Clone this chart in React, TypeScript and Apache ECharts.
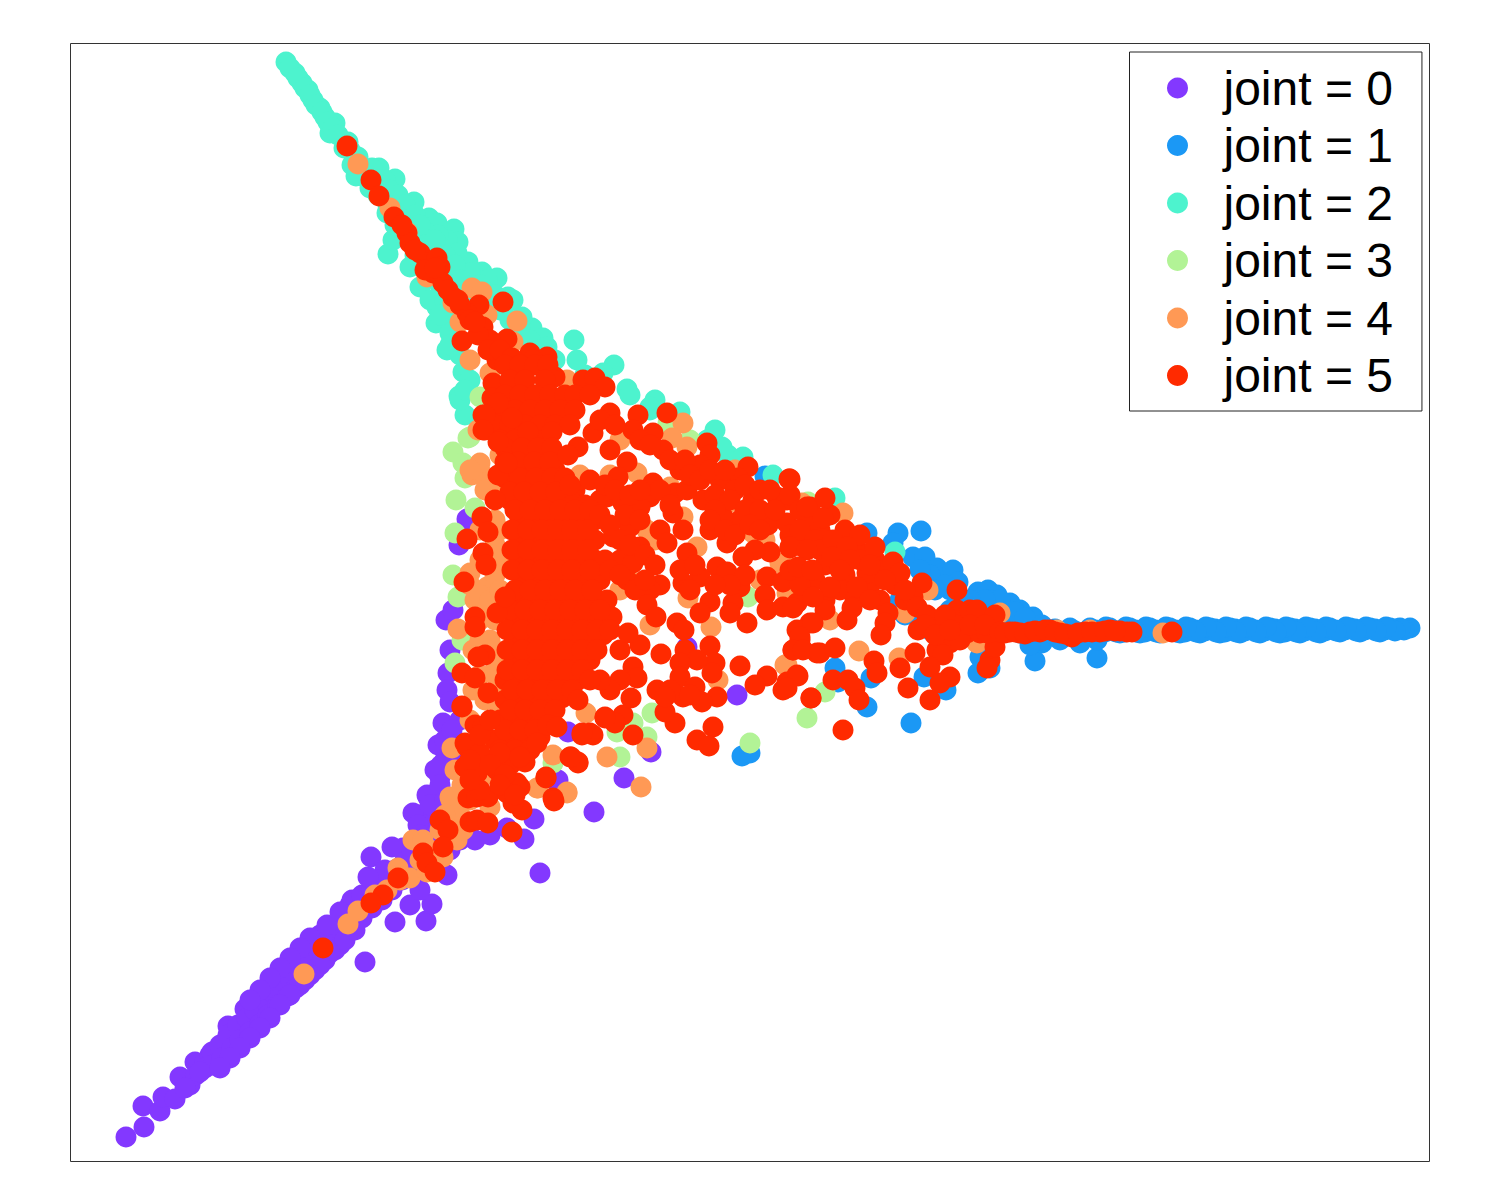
import React, { useEffect, useRef } from "react";
import * as echarts from "echarts";

type P = [number, number];

const joint0: P[] = [[126,1137],[144,1127],[143,1106],[160,1111],[163,1097],[175,1099],[180,1077],[190,1085],[196,1075],[195,1062],[205,1062],[210,1055],[218,1050],[226,1044],[228,1026],[235,1034],[240,1028],[245,1009],[250,1020],[256,1005],[262,1012],[268,990],[272,1002],[280,995],[285,985],[292,975],[298,970],[296,960],[305,965],[315,955],[320,935],[325,945],[335,935],[340,945],[345,918],[350,905],[355,925],[352,900],[365,962],[370,905],[372,880],[371,857],[380,895],[395,922],[426,921],[432,904],[410,905],[420,890],[385,870],[390,885],[403,848],[410,860],[425,855],[447,875],[418,815],[428,797],[430,830],[437,810],[450,850],[460,840],[540,873],[594,812],[524,839],[534,819],[556,781],[624,778],[651,752],[737,695],[467,519],[459,545],[446,620],[453,610],[450,650],[448,673],[447,690],[450,702],[443,723],[438,745],[440,777],[427,795],[558,780],[568,732],[687,647],[460,720],[458,760],[445,760],[441,765],[475,840],[490,835],[507,828],
[205,1068],[212,1052],[213,1065],[220,1045],[222,1058],[228,1035],[232,1048],[238,1025],[240,1040],[247,1018],[250,1032],[255,1010],[260,1024],[264,1000],[268,1015],[272,992],[278,1005],[282,985],[288,996],[290,978],[296,988],[300,968],[305,980],[308,960],[315,970],[318,950],[325,960],[328,940],[335,950],[338,928],[345,940],[346,915],[355,930],[362,918],[362,895],[372,908],[372,890],[382,900],[380,880],[392,890],[395,870],[402,880],[405,860],[415,870],[412,850],[425,845],[422,840],[435,845],[432,825],[445,835],[440,815],[455,825],[413,813],[368,877],[392,847],[418,825],[445,740],[435,770],[440,785],[452,730],[455,745],[430,805],[445,800],[420,835],[185,1088],[200,1072],
[310,938],[300,948],[290,958],[280,968],[270,978],[260,990],[250,1000],[327,925],[340,912],[330,953],[320,965],[310,975],[300,985],[290,995],[280,1005],[270,1018],[260,1028],[250,1038],[240,1048],[230,1058],[220,1068]];

const joint1: P[] = [[1410,628],[1404,630],[1396,629],[1385,630],[1375,629],[1365,630],[1355,629],[1345,630],[1335,630],[1325,631],[1315,629],[1305,631],[1295,629],[1285,632],[1275,629],[1265,631],[1255,630],[1245,631],[1235,629],[1225,632],[1215,629],[1205,631],[1195,630],[1185,632],[1175,630],[1165,631],[1155,630],[1145,632],[1135,630],[1125,632],[1115,631],[1105,632],[1095,630],[1085,633],[1075,631],[1065,632],[1055,629],[1045,632],[1035,627],[1025,632],[1015,631],[898,533],[921,531],[867,533],[893,543],[913,557],[925,557],[937,568],[953,570],[958,582],[978,592],[988,590],[997,595],[1010,603],[1020,610],[1033,617],[1035,661],[1097,658],[1042,643],[1080,643],[980,657],[978,673],[990,668],[924,677],[946,690],[867,707],[911,723],[835,668],[871,678],[838,682],[742,756],[750,753],[765,476],[900,600],[915,610],[950,590],[960,600],[975,610],[990,600],[1005,610],[1000,620],[1010,625],[1020,625],[930,575],[945,585],[920,570],[905,615],[930,630],[1040,640],[1030,645],
[1400,628],[1390,628],[1380,632],[1370,628],[1360,632],[1350,628],[1340,632],[1330,628],[1320,633],[1310,628],[1300,633],[1290,628],[1280,633],[1270,628],[1260,633],[1250,628],[1240,633],[1230,628],[1220,633],[1210,628],[1200,633],[1190,628],[1180,633],[1170,628],[1160,633],[1150,628],[1140,633],[1130,628],[1120,633],[1110,628],[1100,633],[1090,628],[1080,633],[1070,628],[1060,633],[1050,633],[1040,628],[1030,633],[1020,633],[1000,600],[1015,612],[1005,630],[985,600],[970,600],[950,610],[935,590],[1025,618],[1060,640],[1097,640],[1042,625],[920,620],[960,620],[980,625],
[1395,631],[1386,627],[1376,631],[1366,627],[1356,631],[1346,627],[1336,631],[1326,627],[1316,632],[1306,627],[1296,632],[1286,627],[1276,632],[1266,627],[1256,632],[1246,627],[1236,632],[1226,627],[1216,632],[1206,627],[1196,632],[1186,627],[1176,632],[1166,627],[1156,632],[1146,627],[1136,632],[1126,627],[1116,632],[1106,627],[1096,632]];

const joint2: P[] = [[286,62],[295,73],[302,83],[308,90],[313,100],[320,108],[325,117],[335,123],[330,133],[348,142],[358,157],[356,176],[379,168],[395,179],[370,188],[414,202],[387,213],[429,218],[454,229],[437,223],[458,242],[388,254],[393,240],[410,267],[420,287],[437,247],[447,240],[468,262],[482,272],[497,278],[508,297],[436,323],[447,350],[437,307],[532,328],[543,338],[574,340],[577,360],[614,365],[603,373],[463,372],[459,396],[465,415],[627,389],[655,400],[650,410],[547,347],[457,253],[470,273],[453,323],[450,333],[487,280],[513,300],[522,317],[427,233],[417,227],[460,400],[650,407],[680,412],[715,430],[728,455],[743,457],[773,475],[722,447],[707,440],[835,498],[895,552],[400,220],[430,260],[445,280],[460,300],[475,310],
[290,68],[298,78],[305,88],[310,95],[316,105],[322,112],[328,122],[333,128],[338,135],[344,148],[350,150],[352,165],[362,168],[366,178],[372,168],[385,180],[378,195],[390,190],[398,195],[388,205],[405,205],[395,225],[415,215],[405,235],[420,225],[425,245],[415,255],[438,235],[445,255],[430,265],[450,270],[455,265],[440,285],[460,280],[430,300],[445,300],[470,290],[480,285],[440,315],[455,310],[495,295],[490,300],[500,310],[510,320],[520,330],[450,345],[460,355],[530,340],[540,350],[555,360],[470,380],[465,390],[585,375],[600,380],[630,395],[435,240],[425,255],[480,300]];

const joint3: P[] = [[453,452],[468,438],[463,463],[465,478],[456,500],[475,508],[455,533],[453,575],[458,597],[462,640],[455,663],[652,713],[633,723],[617,732],[647,737],[620,757],[553,763],[690,440],[668,423],[807,718],[750,743],[808,502],[748,597],[825,692],[480,397],[470,437]];

const joint4: P[] = [[358,164],[390,208],[407,232],[427,277],[472,288],[482,292],[517,321],[470,360],[513,342],[487,315],[460,322],[490,373],[567,380],[453,303],[683,423],[672,438],[687,447],[483,475],[480,463],[492,490],[580,475],[610,475],[620,440],[637,473],[670,487],[683,517],[647,530],[697,547],[728,503],[753,533],[780,563],[760,580],[637,583],[688,598],[620,590],[470,573],[475,600],[487,587],[458,629],[473,650],[493,673],[473,690],[508,698],[650,625],[711,627],[718,680],[787,665],[586,713],[452,748],[553,755],[607,757],[647,748],[641,787],[567,792],[538,788],[463,787],[450,797],[802,503],[843,513],[928,590],[830,620],[859,651],[899,658],[1000,613],[977,643],[1057,630],[1090,630],[1163,633],[785,665],[905,613],[847,587],[785,563],[787,593],[304,974],[348,924],[358,911],[398,868],[410,878],[427,872],[413,840],[423,840],[451,800],[462,785],[457,840],[443,857],[567,793],[537,788],[490,807],[463,830],[387,890],[480,560],[472,475],[495,545],[490,640],[480,620],[485,700],[470,720],[460,815],[440,830],[478,430],[500,455],[655,540],[735,470],[765,540],
[470,585],[480,595],[495,575],[485,610],[480,640],[495,690],[480,675],[500,710],[470,470],[485,490],[475,760],[485,775],[455,770],[470,800],[445,815],[430,850],[420,860],[400,880],[375,895],[480,745],[495,520],[480,530],[495,620],[495,650],[490,600],[500,590],[500,560],[500,530],[495,660]];

const joint5: P[] = [[347,146],[371,180],[379,196],[394,217],[407,233],[410,243],[420,253],[427,263],[437,258],[440,267],[433,273],[443,283],[453,297],[479,305],[503,302],[467,313],[483,327],[462,341],[507,339],[490,340],[497,360],[530,353],[547,357],[533,360],[555,377],[583,380],[595,378],[605,387],[493,383],[492,398],[483,415],[485,430],
[402,225],[415,250],[425,270],[435,268],[448,290],[460,305],[470,320],[478,335],[488,350],[500,350],[512,358],[475,322],[458,300],
[505,365],[520,365],[535,365],[548,365],[510,380],[525,380],[545,380],[505,395],[520,395],[535,395],[550,395],[565,395],[575,395],[590,395],[500,410],[515,410],[530,410],[545,410],[560,410],[575,410],[495,425],[510,425],[525,425],[540,425],[555,425],[570,425],[500,440],[515,440],[530,440],[545,440],[515,455],[530,455],[545,455],[510,470],[525,470],[540,470],[555,470],[515,485],[530,485],[545,485],[560,485],[575,490],[510,500],[525,500],[540,500],[555,500],[570,500],[585,505],[600,500],[520,520],[535,520],[550,520],[565,520],[580,520],[595,520],[520,540],[535,540],[550,540],[565,540],[580,540],[595,540],[520,560],[535,560],[550,560],[565,560],[580,560],[595,560],[605,560],[525,580],[540,580],[555,580],[570,580],[585,580],[600,580],[520,600],[535,600],[550,600],[565,600],[580,600],[595,600],[607,600],[515,620],[530,620],[545,620],[560,620],[575,620],[590,620],[605,620],[612,617],[515,640],[530,640],[545,640],[560,640],[575,640],[590,640],[603,635],[515,660],[530,660],[545,660],[560,660],[575,660],[590,660],[505,680],[520,680],[535,680],[550,680],[565,680],[578,680],[505,700],[520,700],[535,700],[550,700],[562,698],[500,720],[515,720],[530,720],[545,720],[495,740],[510,740],[525,740],[540,737],
[498,403],[512,418],[528,432],[552,432],[505,448],[522,448],[538,448],[552,448],[505,462],[518,462],[534,462],[550,462],[505,478],[520,478],[536,478],[552,478],[565,478],[510,492],[524,492],[540,492],[556,492],[570,485],[515,510],[530,510],[545,510],[560,510],[575,510],[590,510],[512,530],[528,530],[542,530],[558,530],[572,530],[588,530],[512,550],[528,550],[542,550],[558,550],[572,550],[588,550],[512,570],[528,570],[542,570],[558,570],[572,570],[590,570],[515,590],[530,590],[545,590],[560,590],[575,590],[592,590],[510,610],[525,610],[540,610],[555,610],[570,610],[585,610],[600,610],[507,630],[522,630],[537,630],[552,630],[567,630],[582,630],[597,630],[610,630],[507,650],[522,650],[537,650],[552,650],[567,650],[582,650],[597,650],[507,670],[522,670],[537,670],[552,670],[567,670],[582,670],[512,690],[527,690],[542,690],[557,690],[572,690],[510,710],[525,710],[540,710],[555,710],[505,730],[520,730],[535,730],[548,725],[500,750],[515,750],[530,750],[495,760],[510,765],[525,762],
[667,413],[638,415],[610,413],[593,433],[610,450],[627,462],[618,477],[590,480],[578,447],[568,455],[653,433],[633,430],[663,450],[680,470],[653,483],[650,497],[675,493],[707,443],[710,455],[700,465],[748,467],[738,478],[720,480],[703,500],[687,490],[753,500],[789,479],[777,497],[787,500],[810,507],[768,525],[787,523],[803,547],[790,548],[770,552],[755,550],[740,520],[723,517],[710,530],[727,543],[743,557],[717,567],[727,572],[700,577],[683,583],[660,585],[650,590],[627,580],[620,560],[633,563],[640,547],[660,530],[683,530],[667,543],[687,553],[673,513],[640,507],[623,503],[607,497],[630,527],[613,537],[767,577],[783,582],[765,595],[740,587],[710,602],[700,613],[733,603],[730,613],[747,623],[767,610],[783,607],[797,603],[810,623],[797,630],[800,640],[793,650],[817,653],[740,666],[767,676],[755,685],[797,675],[787,682],[783,690],[811,698],
[600,420],[615,425],[640,440],[650,445],[670,460],[685,460],[690,475],[700,480],[710,470],[725,470],[735,490],[745,485],[760,490],[770,490],[715,495],[730,500],[745,510],[760,510],[775,510],[790,495],[800,510],[810,520],[820,530],[660,490],[670,505],[715,510],[605,485],[615,490],[630,495],[640,490],[625,515],[640,520],[600,515],[610,525],[620,540],[630,545],[645,555],[655,565],[680,570],[695,565],[710,520],[725,530],[735,535],[750,525],[760,530],[790,535],[800,530],[815,540],[820,550],[825,565],[815,580],[800,585],[790,570],[745,575],[730,585],[715,585],[610,570],[620,575],[635,590],[645,580],[690,590],[830,515],[845,530],[855,545],[865,555],[875,560],[885,570],[860,560],[845,575],[840,590],[825,600],[825,610],[855,600],[870,585],[880,600],[895,585],[905,600],[895,575],
[647,605],[656,617],[677,623],[684,630],[710,646],[715,663],[712,673],[661,654],[640,645],[620,650],[628,633],[685,650],[697,660],[680,663],[680,677],[695,687],[717,697],[702,702],[683,697],[657,690],[675,723],[665,712],[713,727],[697,740],[709,746],[633,735],[623,715],[605,717],[615,723],[593,735],[582,735],[570,757],[578,763],[633,667],[637,678],[620,680],[610,690],[631,698],[546,777],[553,798],[670,690],[690,695],[665,697],[600,680],[590,680],[578,700],
[485,415],[483,430],[498,442],[498,475],[507,463],[495,500],[482,517],[488,532],[467,539],[483,553],[486,565],[464,582],[475,617],[475,627],[497,613],[505,597],[485,655],[478,657],[462,673],[475,678],[488,693],[462,706],[475,725],[465,743],[465,767],[477,773],[497,770],[520,787],
[462,707],[440,820],[448,830],[443,847],[423,853],[427,863],[435,872],[398,878],[383,895],[371,903],[323,948],[468,798],[477,797],[488,797],[470,822],[477,820],[488,823],[512,832],[522,810],[513,803],[554,801],[546,778],[578,762],[571,757],[590,733],[582,733],[605,718],[465,767],[477,773],[497,770],[517,783],[507,793],[537,743],[557,727],[467,747],[483,727],[480,753],[500,753],[520,757],[490,765],[505,775],[480,735],[490,720],[480,790],[500,785],[515,795],[470,760],[470,780],
[790,479],[825,498],[807,507],[823,518],[860,535],[875,547],[893,562],[900,573],[922,583],[957,590],[833,540],[847,547],[790,547],[807,550],[832,557],[798,567],[812,570],[830,587],[813,597],[793,608],[813,623],[800,637],[793,650],[803,650],[820,653],[835,648],[867,573],[857,587],[870,600],[852,608],[847,620],[888,613],[885,623],[881,635],[913,597],[917,607],[927,615],[918,630],[940,627],[957,610],[970,610],[977,610],[995,615],[950,643],[937,650],[943,655],[915,653],[900,668],[908,688],[930,667],[950,677],[940,683],[930,700],[874,661],[877,673],[833,680],[848,680],[855,688],[859,700],[811,698],[843,730],[798,676],[787,688],[990,660],[987,668],[995,647],[967,633],[980,633],[987,633],[850,560],[870,565],[885,580],[905,590],[840,570],[955,625],[945,615],[960,640],
[925,625],[935,635],[950,630],[970,625],[985,625],[1000,632],[1010,632],[1020,633],[1030,632],[1040,632],[1050,630],[1060,633],[1070,635],[1072,637],[1085,632],[1100,632],[1110,630],[1120,631],[1127,632],[1132,632],[1172,632],[1005,633],[1015,632],[1025,634],[1035,631],[1045,630],[1055,632],[1065,634],[1078,633],[1092,632],[1105,631],[1115,631]];

const seriesNames = ["joint = 0", "joint = 1", "joint = 2", "joint = 3", "joint = 4", "joint = 5"];
const seriesData = [joint0, joint1, joint2, joint3, joint4, joint5];
const seriesColors = ["#8338ff", "#1b98f5", "#4df3ce", "#b2f396", "#ff9955", "#ff2a00"];

export default function App() {
  const ref = useRef<HTMLDivElement>(null);
  useEffect(() => {
    const chart = echarts.init(ref.current!, undefined, { renderer: "svg" });
    chart.setOption({
      animation: false,
      backgroundColor: "#ffffff",
      grid: { show: true, left: 70.5, right: 70.5, top: 43.5, bottom: 38.5, borderColor: "#333333", borderWidth: 1, backgroundColor: "transparent" },
      xAxis: { type: "value", min: 70.5, max: 1429.5, show: false },
      yAxis: { type: "value", min: 43.5, max: 1161.5, inverse: true, show: false },
      legend: {
        orient: "vertical",
        left: 1129.5,
        top: 52,
        padding: [11, 29, 10.5, 37.5],
        itemWidth: 82,
        itemHeight: 21,
        itemGap: 7.5,
        icon: "circle",
        borderColor: "#222222",
        borderWidth: 1,
        borderRadius: 0,
        backgroundColor: "#ffffff",
        textStyle: { fontFamily: "Liberation Sans", fontSize: 48, lineHeight: 50, color: "#000000" },
        data: seriesNames,
      },
      series: seriesNames.map((name, i) => ({
        name,
        type: "scatter",
        data: seriesData[i],
        symbolSize: 21,
        itemStyle: { color: seriesColors[i], opacity: 1 },
        silent: true,
        z: 2 + i,
        clip: false,
      })),
    });
    return () => chart.dispose();
  }, []);
  return <div ref={ref} style={{ position: "absolute", left: 0, top: 0, width: 1500, height: 1200 }} />;
}
